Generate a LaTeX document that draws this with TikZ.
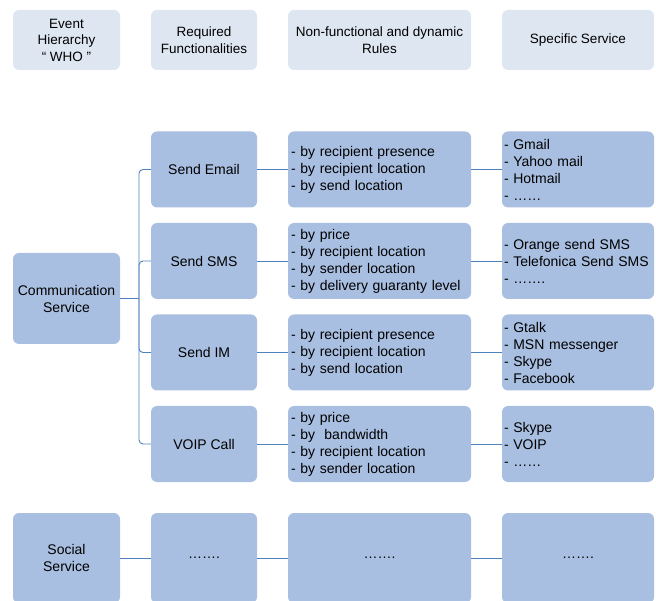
\documentclass[tikz,border=0pt]{standalone}
\usepackage{fontspec}
\setmainfont{Liberation Sans}
\usepackage{xcolor}
\usetikzlibrary{positioning}
\definecolor{headfill}{HTML}{DEE6F1}
\definecolor{boxfill}{HTML}{A9BFE1}
\definecolor{linkblue}{HTML}{4F81BD}
\tikzstyle{head} = [rectangle, rounded corners=6pt, minimum height=60pt, fill=headfill, align=center, inner sep=2pt, outer sep=0pt, font=\fontsize{13.5}{16.5}\selectfont]
\tikzstyle{block} = [rectangle, rounded corners=6pt, minimum height=76pt, fill=boxfill, align=center, inner sep=2pt, outer sep=0pt, font=\fontsize{14}{17}\selectfont]
\tikzstyle{rules} = [block, text width=177pt, inner xsep=3pt, align=left]
\tikzstyle{services} = [block, text width=148pt, inner xsep=2pt, align=left]
\tikzstyle{link} = [draw=linkblue, line width=0.9pt]

\begin{document}
\begin{tikzpicture}[x=1pt, y=-1pt, node distance=31pt]
            \useasboundingbox (0,0) rectangle (656,601);
            % column heads
            \node[head, minimum width=107pt] (who) at (66.5,40) {Event\\Hierarchy\\“ WHO ”};
            \node[head, minimum width=106pt, right=of who] (func) {Required\\Functionalities};
            \node[head, minimum width=183pt, right=of func] (rulehead) {Non-functional and dynamic\\Rules};
            \node[head, minimum width=152pt, right=of rulehead] (svchead) {Specific Service};

            % communication service
            \node[block, minimum width=107pt, minimum height=91pt] (comm) at (66.5,298.5) {Communication\\Service};

            \node[block, minimum width=106pt] (email) at (204,169.5) {Send Email};
            \node[rules, right=of email] (emailrules) {- by recipient presence\\- by recipient location\\- by send location};
            \node[services, right=of emailrules] (emailsvc) {- Gmail\\- Yahoo mail\\- Hotmail\\- ……};

            \node[block, minimum width=106pt, below=15.5pt of email] (sms) {Send SMS};
            \node[rules, right=of sms] (smsrules) {- by price\\- by recipient location\\- by sender location\\- by delivery guaranty level};
            \node[services, right=of smsrules] (smssvc) {- Orange send SMS\\- Telefonica Send SMS\\- …….};

            \node[block, minimum width=106pt, below=15.5pt of sms] (im) {Send IM};
            \node[rules, right=of im] (imrules) {- by recipient presence\\- by recipient location\\- by send location};
            \node[services, right=of imrules] (imsvc) {- Gtalk\\- MSN messenger\\- Skype\\- Facebook};

            \node[block, minimum width=106pt, below=15.5pt of im] (voip) {VOIP Call};
            \node[rules, right=of voip] (voiprules) {- by price\\- by \ bandwidth\\- by recipient location\\- by sender location};
            \node[services, right=of voiprules] (voipsvc) {- Skype\\- VOIP\\- ……};

            % social service
            \node[block, minimum width=107pt, minimum height=90pt] (social) at (66.5,558) {Social\\Service};
            \node[block, minimum width=106pt, minimum height=90pt, right=of social] (socialfunc) {…….};
            \node[block, minimum width=183pt, minimum height=90pt, right=of socialfunc] (socialrules) {…….};
            \node[block, minimum width=152pt, minimum height=90pt, right=of socialrules] (socialsvc) {…….};

            % fork
            \coordinate (fork) at ([xshift=19pt]comm.east);
            \draw[link] (comm.east) -- (fork);
            \draw[link, rounded corners=4pt] (email.west) -| (fork) |- (voip.west);
            \draw[link, rounded corners=4pt] (sms.west) -| (fork) |- (im.west);

            \foreach \f/\r/\s in {email/emailrules/emailsvc, sms/smsrules/smssvc, im/imrules/imsvc, voip/voiprules/voipsvc, socialfunc/socialrules/socialsvc}
                \draw[link] (\f.east) -- (\r.west) (\r.east) -- (\s.west);
            \draw[link] (social.east) -- (socialfunc.west);
        \end{tikzpicture}
\end{document}
